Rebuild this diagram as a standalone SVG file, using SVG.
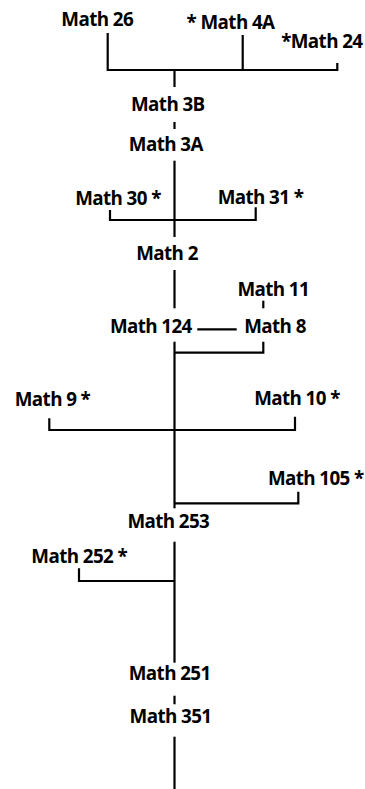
<svg xmlns="http://www.w3.org/2000/svg" width="365" height="789" viewBox="0 0 365 789">
<style>
text{font-family:"Open Sans","Liberation Sans",sans-serif;font-weight:700;font-size:18.8px;letter-spacing:-0.6px;fill:#000;text-anchor:middle}
.c path{fill:none;stroke:#000;stroke-width:2.2}
</style>
<rect width="365" height="789" fill="#fff"/>
<g class="c" id="connectors">
<path d="M107.7,33 V70 H337.3 V63"/>
<path d="M242.7,35 V70"/>
<path d="M174.5,70 V87"/>
<path d="M174.5,122 V129"/>
<path d="M174.5,160.7 V237"/>
<path d="M110,210 V220 H255.7 V207.3"/>
<path d="M174.5,270 V308.3"/>
<path d="M263.3,300.7 V308.3"/>
<path d="M197.3,329.3 H236.7"/>
<path d="M174.5,341.7 V508.3"/>
<path d="M174.5,352.7 H263.3 V341.7"/>
<path d="M49.3,418.3 V430 H295 V416.7"/>
<path d="M174.5,503.3 H298.3 V491.7"/>
<path d="M174.5,541.7 V662.7"/>
<path d="M79,568.3 V581 H174.5"/>
<path d="M174.5,695.7 V704.3"/>
<path d="M174.5,736.7 V789"/>
</g>
<g id="math26"><text x="97.2" y="26">Math 26</text></g>
<g id="math4a"><text x="230.5" y="29.3">* Math 4A</text></g>
<g id="math24"><text x="321.8" y="48.3">*Math 24</text></g>
<g id="math3b"><text x="167.8" y="110.5">Math 3B</text></g>
<g id="math3a"><text x="165.8" y="151">Math 3A</text></g>
<g id="math30"><text x="118" y="205">Math 30 *</text></g>
<g id="math31"><text x="260.5" y="204">Math 31 *</text></g>
<g id="math2"><text x="167" y="260">Math 2</text></g>
<g id="math11"><text x="273.3" y="296">Math 11</text></g>
<g id="math124"><text x="150.8" y="333.3">Math 124</text></g>
<g id="math8"><text x="275" y="333.3">Math 8</text></g>
<g id="math9"><text x="52.5" y="406">Math 9 *</text></g>
<g id="math10"><text x="297" y="405">Math 10 *</text></g>
<g id="math105"><text x="315.8" y="485">Math 105 *</text></g>
<g id="math253"><text x="168.3" y="528.3">Math 253</text></g>
<g id="math252"><text x="79.2" y="563.3">Math 252 *</text></g>
<g id="math251"><text x="169.7" y="680">Math 251</text></g>
<g id="math351"><text x="170.5" y="723.3">Math 351</text></g>
</svg>
